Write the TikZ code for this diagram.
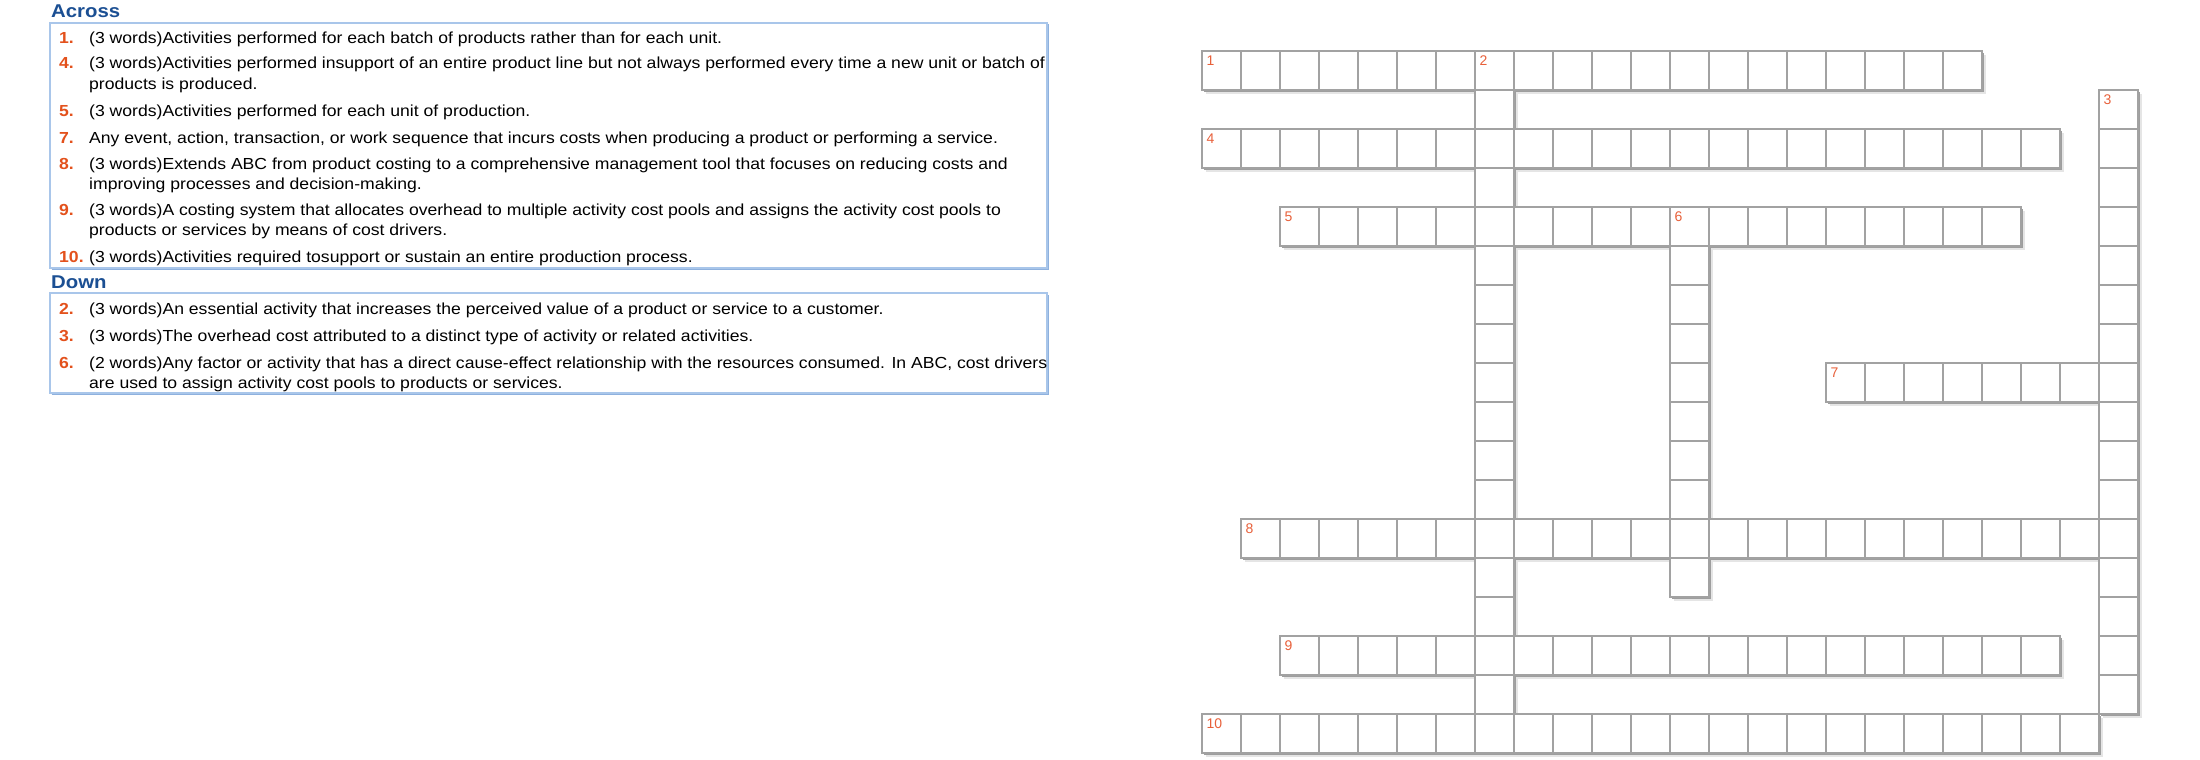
\documentclass[tikz,border=0pt]{standalone}
\usepackage{fontspec}
\setmainfont[FakeStretch=1.1]{Liberation Sans}
\newfontfamily\gridfont{Liberation Sans}
\definecolor{headblue}{HTML}{1B4F93}
\definecolor{numorange}{HTML}{E3511C}
\definecolor{boxblue}{HTML}{A9C6EA}
\definecolor{boxshadow}{HTML}{8EB1DE}
\definecolor{cellgray}{HTML}{A2A2A2}
\definecolor{lblorange}{HTML}{E8603A}
\tikzset{
  clue/.style={anchor=base west, inner sep=0pt, font=\fontsize{16}{20}\selectfont, text=black},
  cluenum/.style={anchor=base west, inner sep=0pt, font=\fontsize{16}{20}\selectfont\bfseries, text=numorange},
  heading/.style={anchor=base west, inner sep=0pt, font=\fontsize{18.5}{20}\selectfont\bfseries, text=headblue},
  cluebox/.style={draw=boxblue, line width=1.6pt, fill=white},
  cell/.style={draw=cellgray, line width=1.6pt, fill=white, minimum size=39pt, inner sep=0pt, outer sep=0pt},
  numlbl/.style={anchor=north west, inner sep=0pt, font=\gridfont\fontsize{14}{14}\selectfont, text=lblorange},
}
\begin{document}
\begin{tikzpicture}[x=1pt,y=-1pt]
\useasboundingbox (0,0) rectangle (2200,760);
\fill[white] (0,0) rectangle (2200,760);

% ---- clue boxes ----
\draw[boxshadow, line width=1.6pt] (51.5,269.5) -- (1048.5,269.5) -- (1048.5,24.5);
\draw[cluebox] (50,23) rectangle (1047,268);
\draw[boxshadow, line width=1.6pt] (51.5,394.5) -- (1048.5,394.5) -- (1048.5,294.5);
\draw[cluebox] (50,293) rectangle (1047,393);

% ---- Across ----
\node[heading] (hacross) at (51,18) {Across};
\node[cluenum] (n1) at (59,44) {1.};
\node[clue] (t1) at (89,44) {(3 words)Activities performed for each batch of products rather than for each unit.};
\node[cluenum] (n4) at (59,69) {4.};
\node[clue] (t4a) at (89,69) {(3 words)Activities performed insupport of an entire product line but not always performed every time a new unit or batch of};
\node[clue] (t4b) at (89,89) {products is produced.};
\node[cluenum] (n5) at (59,116) {5.};
\node[clue] (t5) at (89,116) {(3 words)Activities performed for each unit of production.};
\node[cluenum] (n7) at (59,143) {7.};
\node[clue] (t7) at (89,143) {Any event, action, transaction, or work sequence that incurs costs when producing a product or performing a service.};
\node[cluenum] (n8) at (59,169) {8.};
\node[clue] (t8a) at (89,169) {(3 words)Extends ABC from product costing to a comprehensive management tool that focuses on reducing costs and};
\node[clue] (t8b) at (89,189) {improving processes and decision-making.};
\node[cluenum] (n9) at (59,215) {9.};
\node[clue] (t9a) at (89,215) {(3 words)A costing system that allocates overhead to multiple activity cost pools and assigns the activity cost pools to};
\node[clue] (t9b) at (89,235) {products or services by means of cost drivers.};
\node[cluenum] (n10) at (59,262) {10.};
\node[clue] (t10) at (89,262) {(3 words)Activities required tosupport or sustain an entire production process.};

% ---- Down ----
\node[heading] (hdown) at (51,288) {Down};
\node[cluenum] (d2) at (59,314) {2.};
\node[clue] (u2) at (89,314) {(3 words)An essential activity that increases the perceived value of a product or service to a customer.};
\node[cluenum] (d3) at (59,341) {3.};
\node[clue] (u3) at (89,341) {(3 words)The overhead cost attributed to a distinct type of activity or related activities.};
\node[cluenum] (d6) at (59,368) {6.};
\node[clue] (u6a) at (89,368) {(2 words)Any factor or activity that has a direct cause-effect relationship with the resources consumed. In ABC, cost drivers};
\node[clue] (u6b) at (89,388) {are used to assign activity cost pools to products or services.};

% ---- crossword grid ----
\def\acrosswords{0/0/20, 0/2/22, 2/4/19, 16/8/8, 1/12/23, 2/15/20, 0/17/23}
\def\downwords{7/0/17, 23/1/16, 12/4/10}
% shadows
\foreach \c/\r/\n in \acrosswords {
  \fill[black!10] ({1202+39*\c+4},{51+39*\r+4}) rectangle ({1202+39*(\c+\n)+4},{51+39*(\r+1)+4});
}
\foreach \c/\r/\n in \downwords {
  \fill[black!10] ({1202+39*\c+4},{51+39*\r+4}) rectangle ({1202+39*(\c+1)+4},{51+39*(\r+\n)+4});
}
\foreach \c/\r/\n in \acrosswords {
  \fill[black!38] ({1202+39*\c+2},{51+39*\r+2}) rectangle ({1202+39*(\c+\n)+2.2},{51+39*(\r+1)+2.2});
}
\foreach \c/\r/\n in \downwords {
  \fill[black!38] ({1202+39*\c+2},{51+39*\r+2}) rectangle ({1202+39*(\c+1)+2.2},{51+39*(\r+\n)+2.2});
}
% cells
\foreach \c/\r/\n in \acrosswords {
  \foreach \i in {1,...,\n} {
    \pgfmathtruncatemacro\cc{\c+\i-1}
    \node[cell] (cell-\cc-\r) at ({1221.5+39*\cc},{70.5+39*\r}) {};
  }
}
\foreach \c/\r/\n in \downwords {
  \foreach \i in {1,...,\n} {
    \pgfmathtruncatemacro\rr{\r+\i-1}
    \node[cell] (cell-\c-\rr) at ({1221.5+39*\c},{70.5+39*\rr}) {};
  }
}
% clue numbers in the grid
\foreach \c/\r/\t in {0/0/1, 7/0/2, 23/1/3, 0/2/4, 2/4/5, 12/4/6, 16/8/7, 1/12/8, 2/15/9, 0/17/10} {
  \node[numlbl] (lbl-\t) at ({1202+39*\c+4.5},{51+39*\r+5}) {\t};
}
\end{tikzpicture}
\end{document}
